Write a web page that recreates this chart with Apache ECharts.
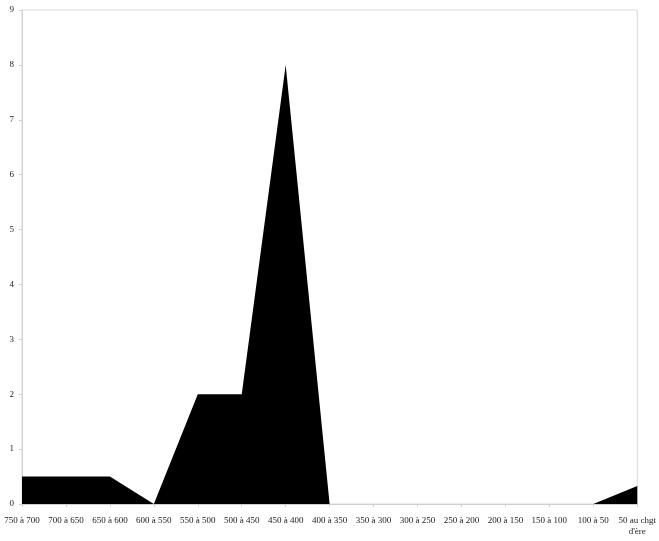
<!DOCTYPE html>
<html><head><meta charset="utf-8">
<script src="https://cdn.jsdelivr.net/npm/echarts@6/dist/echarts.min.js"></script>
<style>html,body{margin:0;padding:0;background:#fff}#c{width:659px;height:541px}</style>
</head><body><div id="c"></div>
<script>
const categories = ["750 à 700","700 à 650","650 à 600","600 à 550","550 à 500","500 à 450","450 à 400","400 à 350","350 à 300","300 à 250","250 à 200","200 à 150","150 à 100","100 à 50","50 au chgt\nd'ère"];
const values = [0.5,0.5,0.5,0,2,2,8,0,0,0,0,0,0,0,0.33];
const yTicks = [0,1,2,3,4,5,6,7,8,9];

const chart = echarts.init(document.getElementById('c'), null, {renderer:'canvas'});
chart.setOption({
  animation:false,
  grid:{left:22,right:18,top:10,bottom:37,show:true,borderColor:'#d9d9d9',borderWidth:1,containLabel:false},
  xAxis:{type:'category',data:categories,boundaryGap:false,
    axisLine:{lineStyle:{color:'#d0d0d0'}},
    axisTick:{show:true,length:3,lineStyle:{color:'#d0d0d0'}},
    axisLabel:{interval:0,color:'#222',fontFamily:'Liberation Serif',fontSize:9,margin:11,lineHeight:11,overflow:'none'},
    splitLine:{show:false}},
  yAxis:{type:'value',min:0,max:9,interval:1,
    axisLine:{show:true,lineStyle:{color:'#d0d0d0'}},
    axisTick:{show:true,length:3,lineStyle:{color:'#d0d0d0'}},
    axisLabel:{color:'#222',fontFamily:'Liberation Serif',fontSize:9,margin:8,
      formatter:v=>yTicks.includes(v)?String(v):''},
    splitLine:{show:false}},
  series:[{type:'line',data:values,symbol:'none',lineStyle:{width:0,color:'#000'},
    areaStyle:{color:'#000',opacity:1},z:1}]
});
</script></body></html>
